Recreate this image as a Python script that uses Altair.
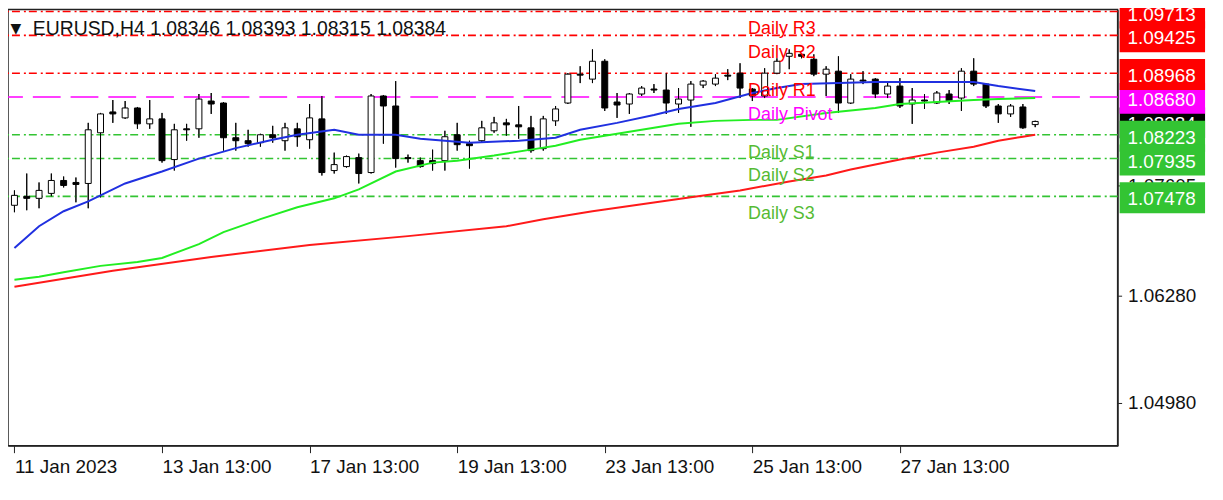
import altair as alt
import pandas as pd

# ---------------- data ----------------
opens = [
    1.07370, 1.07478, 1.07454, 1.07514, 1.07670, 1.07646, 1.07634, 1.08247, 1.08499, 1.08427,
    1.08547, 1.08355, 1.08415, 1.07923, 1.08295, 1.08295, 1.08631, 1.08607, 1.08187, 1.08151,
    1.08127, 1.08223, 1.08151, 1.08295, 1.08163, 1.08415, 1.07790, 1.07838, 1.07947, 1.07766,
    1.08692, 1.08571, 1.07947, 1.07910, 1.07910, 1.07910, 1.08223, 1.08115, 1.08151, 1.08271,
    1.08367, 1.08343, 1.08307, 1.08055, 1.08391, 1.08607, 1.08956, 1.08896, 1.09112, 1.08619,
    1.08595, 1.08716, 1.08776, 1.08764, 1.08595, 1.08643, 1.08824, 1.08836, 1.08944, 1.08968,
    1.08776, 1.08692, 1.08968, 1.09172, 1.09196, 1.09136, 1.08956, 1.08992, 1.08607, 1.08884,
    1.08896, 1.08716, 1.08812, 1.08595, 1.08643, 1.08607, 1.08716, 1.08667, 1.08992, 1.08836,
    1.08571, 1.08475, 1.08559, 1.08346]
highs = [
    1.07550, 1.07754, 1.07646, 1.07754, 1.07718, 1.07706, 1.08367, 1.08487, 1.08643, 1.08631,
    1.08559, 1.08643, 1.08487, 1.08355, 1.08355, 1.08716, 1.08728, 1.08619, 1.08367, 1.08283,
    1.08235, 1.08331, 1.08367, 1.08367, 1.08595, 1.08692, 1.08007, 1.07971, 1.07995, 1.08716,
    1.08704, 1.08872, 1.07983, 1.07947, 1.08043, 1.08271, 1.08367, 1.08151, 1.08391, 1.08439,
    1.08415, 1.08571, 1.08451, 1.08451, 1.08571, 1.08968, 1.09052, 1.09256, 1.09136, 1.08728,
    1.08728, 1.08812, 1.08836, 1.08968, 1.08788, 1.08872, 1.08884, 1.08956, 1.09016, 1.09088,
    1.08788, 1.09028, 1.09148, 1.09256, 1.09208, 1.09196, 1.09052, 1.09172, 1.08956, 1.08992,
    1.08908, 1.08872, 1.08908, 1.08788, 1.08716, 1.08752, 1.08764, 1.09028, 1.09148, 1.08848,
    1.08595, 1.08595, 1.08595, 1.08393]
lows = [
    1.07286, 1.07310, 1.07334, 1.07478, 1.07586, 1.07406, 1.07334, 1.07466, 1.08367, 1.08415,
    1.08295, 1.08295, 1.07886, 1.07790, 1.08151, 1.08187, 1.08475, 1.08031, 1.08031, 1.08079,
    1.08079, 1.08127, 1.08031, 1.08079, 1.08055, 1.07730, 1.07754, 1.07826, 1.07634, 1.07754,
    1.08115, 1.07826, 1.07886, 1.07826, 1.07790, 1.07790, 1.08031, 1.07814, 1.08127, 1.08247,
    1.08211, 1.08175, 1.08007, 1.08031, 1.08331, 1.08595, 1.08848, 1.08848, 1.08511, 1.08427,
    1.08475, 1.08692, 1.08728, 1.08475, 1.08487, 1.08319, 1.08788, 1.08812, 1.08884, 1.08667,
    1.08631, 1.08667, 1.08956, 1.09016, 1.09148, 1.08932, 1.08692, 1.08487, 1.08595, 1.08836,
    1.08667, 1.08667, 1.08547, 1.08355, 1.08535, 1.08595, 1.08595, 1.08511, 1.08812, 1.08547,
    1.08367, 1.08439, 1.08295, 1.08315]
closes = [
    1.07490, 1.07454, 1.07550, 1.07670, 1.07610, 1.07622, 1.08283, 1.08475, 1.08475, 1.08547,
    1.08355, 1.08415, 1.07910, 1.08283, 1.08283, 1.08655, 1.08595, 1.08187, 1.08151, 1.08115,
    1.08223, 1.08187, 1.08307, 1.08199, 1.08427, 1.07766, 1.07862, 1.07959, 1.07754, 1.08692,
    1.08571, 1.07935, 1.07935, 1.07838, 1.07874, 1.08199, 1.08103, 1.08091, 1.08307, 1.08367,
    1.08343, 1.08319, 1.08031, 1.08415, 1.08535, 1.08956, 1.08944, 1.09112, 1.08547, 1.08583,
    1.08716, 1.08788, 1.08764, 1.08607, 1.08655, 1.08836, 1.08872, 1.08908, 1.08932, 1.08788,
    1.08692, 1.08968, 1.09112, 1.09208, 1.09172, 1.08956, 1.09016, 1.08607, 1.08896, 1.08872,
    1.08716, 1.08812, 1.08571, 1.08643, 1.08631, 1.08728, 1.08631, 1.08992, 1.08836, 1.08571,
    1.08475, 1.08571, 1.08307, 1.08384]
bar_index = list(range(len(opens)))

ma_blue_idx = [0, 2, 4, 6, 9, 12, 15, 18, 21, 23, 26, 28, 31, 33, 35, 37, 41, 44, 46, 49,
               52, 54, 57, 60, 62, 64, 70, 75, 78, 80, 83]
ma_blue_val = [1.06853, 1.07117, 1.07298, 1.07418, 1.07634, 1.07778, 1.07935, 1.08061, 1.08163,
               1.08223, 1.08283, 1.08223, 1.08223, 1.08175, 1.08151, 1.08127, 1.08151, 1.08187,
               1.08283, 1.08367, 1.08463, 1.08535, 1.08607, 1.08728, 1.08788, 1.08836, 1.08860,
               1.08860, 1.08860, 1.08812, 1.08752]

ma_green_idx = [0, 2, 4, 7, 10, 12, 15, 17, 20, 23, 26, 28, 31, 34, 36, 39, 42, 44, 46, 49,
                52, 54, 57, 60, 62, 66, 70, 72, 75, 78, 80, 83]
ma_green_val = [1.06469, 1.06505, 1.06559, 1.06637, 1.06685, 1.06733, 1.06901, 1.07045, 1.07202,
                1.07346, 1.07454, 1.07562, 1.07778, 1.07886, 1.07910, 1.07971, 1.08043, 1.08091,
                1.08163, 1.08235, 1.08307, 1.08355, 1.08391, 1.08403, 1.08403, 1.08487, 1.08547,
                1.08595, 1.08619, 1.08643, 1.08655, 1.08667]

ma_red_idx = [0, 8, 16, 24, 32, 40, 43, 47, 51, 55, 59, 63, 66, 68, 72, 75, 78, 80, 82, 83]
ma_red_val = [1.06384, 1.06577, 1.06745, 1.06889, 1.06997, 1.07117, 1.07202, 1.07298, 1.07382,
              1.07466, 1.07550, 1.07658, 1.07730, 1.07802, 1.07923, 1.08007, 1.08079, 1.08151,
              1.08199, 1.08223]

level_names = ["Daily R3", "Daily R2", "Daily R1", "Daily Pivot", "Daily S1", "Daily S2", "Daily S3"]
level_values = [1.09713, 1.09425, 1.08968, 1.08680, 1.08223, 1.07935, 1.07478]
level_kinds = ["R", "R", "R", "P", "S", "S", "S"]

symbol = "EURUSD,H4"
x_tick_values = [0, 12, 24, 36, 48, 60, 72]
x_tick_labels = ["11 Jan 2023", "13 Jan 13:00", "17 Jan 13:00", "19 Jan 13:00",
                 "23 Jan 13:00", "25 Jan 13:00", "27 Jan 13:00"]
y_tick_values = [1.04980, 1.06280, 1.07605]

# ---------------- styling ----------------
FONT = "Liberation Sans, Arial, sans-serif"
W, H = 1117, 439
RED, MAGENTA, GREEN = "#FF0000", "#FF00FF", "#33C433"
S_TEXT = "#55BB33"
xs = alt.Scale(domain=[-0.12, 89.3], nice=False, zero=False)
ys = alt.Scale(domain=[1.04462, 1.09737], nice=False, zero=False)

candles = pd.DataFrame({"i": bar_index, "open": opens, "high": highs,
                        "low": lows, "close": closes})
candles["dir"] = ["up" if c >= o else "down" for o, c in zip(opens, closes)]
levels = pd.DataFrame({"name": level_names, "value": level_values, "kind": level_kinds})
last = pd.DataFrame({"value": [closes[-1]]})
title_df = pd.DataFrame({"t": [f"{symbol}  {opens[-1]:.5f} {highs[-1]:.5f} {lows[-1]:.5f} {closes[-1]:.5f}"]})

tick_arr = "[" + ",".join(str(v) for v in x_tick_values) + "]"
lab_arr = "[" + ",".join(f"'{t}'" for t in x_tick_labels) + "]"
x_axis = alt.Axis(values=x_tick_values, labelExpr=f"{lab_arr}[indexof({tick_arr}, datum.value)]",
                  title=None, grid=False, tickSize=7, tickColor="#222", domainColor="#222",
                  labelAlign="left", labelBaseline="top", labelPadding=5, labelFont=FONT,
                  labelFontSize=19, labelColor="#111", labelFlush=False, labelOverlap=False)
y_axis = alt.Axis(orient="right", values=y_tick_values, format=".5f", title=None, grid=False,
                  tickSize=4, tickColor="#222", domainColor="#222", labelPadding=6,
                  labelFont=FONT, labelFontSize=19, labelColor="#111", labelOverlap=False)


def X(field):
    return alt.X(field, scale=xs, axis=x_axis)


def Y(field):
    return alt.Y(field, scale=ys, axis=y_axis)


layers = []

# candle wicks first (they carry the axes)
layers.append(
    alt.Chart(candles).mark_rule(color="black", strokeWidth=1)
    .encode(x=X("i:Q"), y=Y("low:Q"), y2="high:Q")
)

# level lines
for kind, color, dash in [("R", RED, [8, 3, 2, 4]), ("P", MAGENTA, [28, 10]), ("S", GREEN, [8, 3, 2, 4])]:
    layers.append(
        alt.Chart(levels).transform_filter(alt.datum.kind == kind)
        .mark_rule(color=color, strokeWidth=1.6, strokeDash=dash)
        .encode(y=Y("value:Q"))
    )

# candles: wicks again above level lines, then bodies
layers.append(
    alt.Chart(candles).mark_rule(color="black", strokeWidth=1)
    .encode(x=X("i:Q"), y=Y("low:Q"), y2="high:Q")
)
layers.append(
    alt.Chart(candles).mark_bar(size=6, stroke="black", strokeWidth=1)
    .encode(x=X("i:Q"), y=Y("open:Q"), y2="close:Q",
            fill=alt.Fill("dir:N", scale=alt.Scale(domain=["up", "down"], range=["white", "black"]),
                          legend=None))
)

# moving averages
for idx, val, color in [(ma_red_idx, ma_red_val, "#FF1a1a"),
                        (ma_green_idx, ma_green_val, "#22EE22"),
                        (ma_blue_idx, ma_blue_val, "#2030E0")]:
    df = pd.DataFrame({"i": idx, "v": val})
    layers.append(
        alt.Chart(df).mark_line(color=color, strokeWidth=2)
        .encode(x=X("i:Q"), y=Y("v:Q"))
    )

# level names inside the plot
for kind, color in [("R", RED), ("P", MAGENTA), ("S", S_TEXT)]:
    layers.append(
        alt.Chart(levels).transform_filter(alt.datum.kind == kind)
        .mark_text(align="left", baseline="alphabetic", dy=23, fontSize=18, font=FONT, color=color)
        .encode(x=alt.value(745), y=Y("value:Q"), text="name:N")
    )


# price boxes on the right axis
def box(df, color, flt=None):
    base = alt.Chart(df)
    if flt is not None:
        base = base.transform_filter(alt.datum.kind == flt)
    return (base.transform_calculate(top="datum.value + 0.00170", bot="datum.value - 0.00204")
            .mark_rect(color=color)
            .encode(x=alt.value(W + 2), x2=alt.value(W + 88), y=Y("top:Q"), y2="bot:Q"))


def box_text(df, flt=None):
    base = alt.Chart(df)
    if flt is not None:
        base = base.transform_filter(alt.datum.kind == flt)
    return (base.mark_text(align="left", baseline="middle", dy=3, fontSize=19, font=FONT, color="white")
            .encode(x=alt.value(W + 10), y=Y("value:Q"), text=alt.Text("value:Q", format=".5f")))


layers.append(box(last, "black"))
layers.append(box_text(last))
layers.append(box(levels, GREEN, "S"))
layers.append(box(levels, MAGENTA, "P"))
layers.append(box(levels, RED, "R"))
for k in ["S", "P", "R"]:
    layers.append(box_text(levels, k))

# header
layers.append(
    alt.Chart(title_df).mark_text(align="left", baseline="alphabetic", fontSize=19.5, font=FONT, color="#111")
    .encode(x=alt.value(25), y=alt.value(26), text="t:N")
)
layers.append(
    alt.Chart(title_df).mark_text(align="center", baseline="middle", fontSize=14, font="DejaVu Sans", color="#111")
    .encode(x=alt.value(8), y=alt.value(20), text=alt.value("▼"))
)

chart = (
    alt.layer(*layers)
    .properties(width=W, height=H, autosize=alt.AutoSizeParams(type="none"),
                padding={"left": 0, "top": 0, "right": 98, "bottom": 45}, background="white")
    .configure_view(stroke="#222", strokeWidth=1.5)
)

chart.save("out.html", embed_options={"renderer": "svg", "actions": False})
